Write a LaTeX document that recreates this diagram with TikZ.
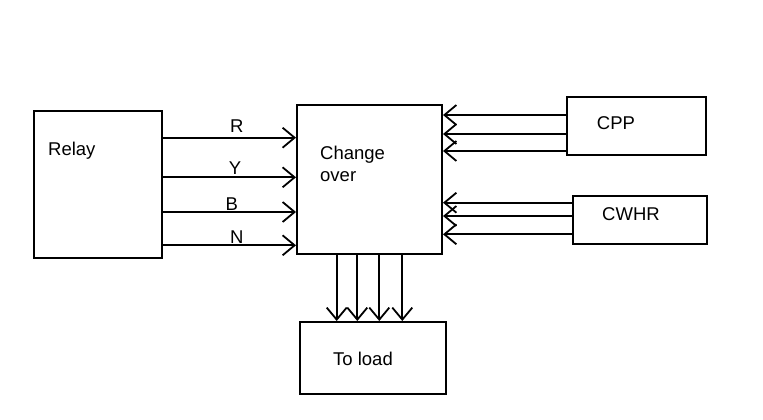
\documentclass[tikz,border=0pt]{standalone}
\usepackage{fontspec}
\setmainfont{Liberation Sans}
\usetikzlibrary{arrows.meta}
\begin{document}
\begin{tikzpicture}[x=1pt,y=-1pt,
  blk/.style={draw,line width=2pt,inner sep=0pt},
  lbl/.style={inner sep=0pt,font=\fontsize{18.5}{22}\selectfont},
  wire/.style={line width=2pt,-{Straight Barb[length=12pt,width=20pt,line width=1.8pt]}}]
\useasboundingbox (0,0) rectangle (763,420);
\node[blk,minimum width=128pt,minimum height=147pt] (relay) at (98,184.5) {};
\node[blk,minimum width=145pt,minimum height=149pt] (co) at (369.5,179.5) {};
\node[blk,minimum width=139pt,minimum height=58pt] (cpp) at (636,126) {};
\node[blk,minimum width=134pt,minimum height=48pt] (cwhr) at (639.5,220) {};
\node[blk,minimum width=146pt,minimum height=72pt] (load) at (373,358) {};
\node[lbl,anchor=west] (trelay) at (48,151) {Relay};
\node[lbl,anchor=west] (tco1) at (320,155) {Change};
\node[lbl,anchor=west] (tco2) at (320,177) {over};
\node[lbl] (tcpp) at (616,123) {CPP};
\node[lbl] (tcwhr) at (631,214) {CWHR};
\node[lbl] (tload) at (363,359) {To load};
% relay to change over
\foreach \y/\t/\xx/\yy in {137.7/R/236.7/126,177.3/Y/235/168,212/B/231.7/204,245.3/N/236.7/237}{
  \draw[wire] (relay.east |- {(0,\y)}) -- (co.west |- {(0,\y)});
  \node[lbl] at (\xx,\yy) {\t};
}
% CPP
\foreach \y in {115,134,151}{
  \draw[wire] (cpp.west |- {(0,\y)}) -- (co.east |- {(0,\y)});
}
% CWHR
\foreach \y in {202.7,216,234.3}{
  \draw[wire] (cwhr.west |- {(0,\y)}) -- (co.east |- {(0,\y)});
}
% to load
\foreach \x in {336.7,357.3,379.3,402.3}{
  \draw[wire] (co.south -| {(\x,0)}) -- (load.north -| {(\x,0)});
}
\end{tikzpicture}
\end{document}
